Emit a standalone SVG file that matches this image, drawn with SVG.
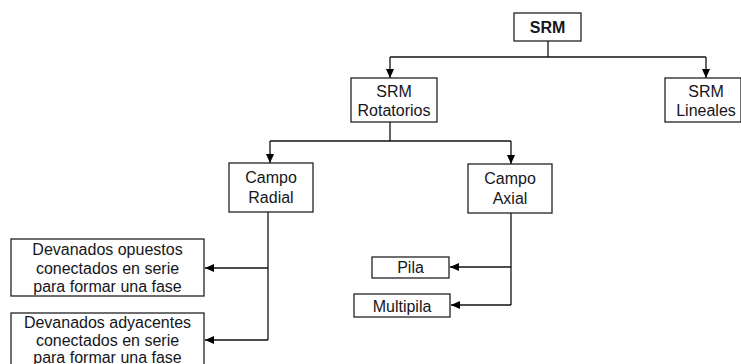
<svg xmlns="http://www.w3.org/2000/svg" width="741" height="364" viewBox="0 0 741 364">
<style>
.n rect{fill:#fff;stroke:#222;stroke-width:1.3}
text{font-family:"Liberation Sans",Arial,sans-serif;font-size:16px;fill:#161620;text-anchor:middle}
.c path{fill:none;stroke:#111;stroke-width:1.3}
</style>
<defs>
<marker id="a" markerWidth="10" markerHeight="10" refX="9" refY="5" orient="auto" markerUnits="userSpaceOnUse">
<path d="M0,1 L9,5 L0,9 Z" fill="#000"/>
</marker>
</defs>
<rect width="741" height="364" fill="#fff"/>
<g class="c">
<path d="M548,41 V57"/>
<path d="M390,57 H706"/>
<path d="M390,57 V78" marker-end="url(#a)"/>
<path d="M706,57 V78" marker-end="url(#a)"/>
<path d="M390,122 V141"/>
<path d="M270,141 H511"/>
<path d="M270,141 V163" marker-end="url(#a)"/>
<path d="M511,141 V164" marker-end="url(#a)"/>
<path d="M268,212 V340"/>
<path d="M268,268 H205" marker-end="url(#a)"/>
<path d="M268,340 H205" marker-end="url(#a)"/>
<path d="M511,213 V305"/>
<path d="M511,267 H450" marker-end="url(#a)"/>
<path d="M511,305 H451" marker-end="url(#a)"/>
</g>
<g id="srm" class="n"><rect x="514" y="13" width="67" height="28"/><text x="547.5" y="33" font-weight="bold">SRM</text></g>
<g id="rot" class="n"><rect x="351" y="78" width="86" height="44"/><text x="394" y="97">SRM</text><text x="394" y="116">Rotatorios</text></g>
<g id="lin" class="n"><rect x="665" y="78" width="76" height="44"/><text x="706" y="97">SRM</text><text x="706" y="116">Lineales</text></g>
<g id="radial" class="n"><rect x="229" y="163" width="84" height="49"/><text x="271" y="183">Campo</text><text x="271" y="203">Radial</text></g>
<g id="axial" class="n"><rect x="468" y="164" width="84" height="49"/><text x="510" y="184">Campo</text><text x="510" y="204">Axial</text></g>
<g id="opuestos" class="n"><rect x="11" y="239" width="193" height="57"/><text x="107.5" y="255">Devanados opuestos</text><text x="107.5" y="274">conectados en serie</text><text x="107.5" y="292">para formar una fase</text></g>
<g id="adyacentes" class="n"><rect x="11" y="313" width="193" height="57"/><text x="107.5" y="328">Devanados adyacentes</text><text x="107.5" y="345.5">conectados en serie</text><text x="107.5" y="363">para formar una fase</text></g>
<g id="pila" class="n"><rect x="372" y="257" width="77" height="21"/><text x="410.5" y="273">Pila</text></g>
<g id="multipila" class="n"><rect x="354" y="294" width="96" height="23"/><text x="402" y="312">Multipila</text></g>
</svg>
